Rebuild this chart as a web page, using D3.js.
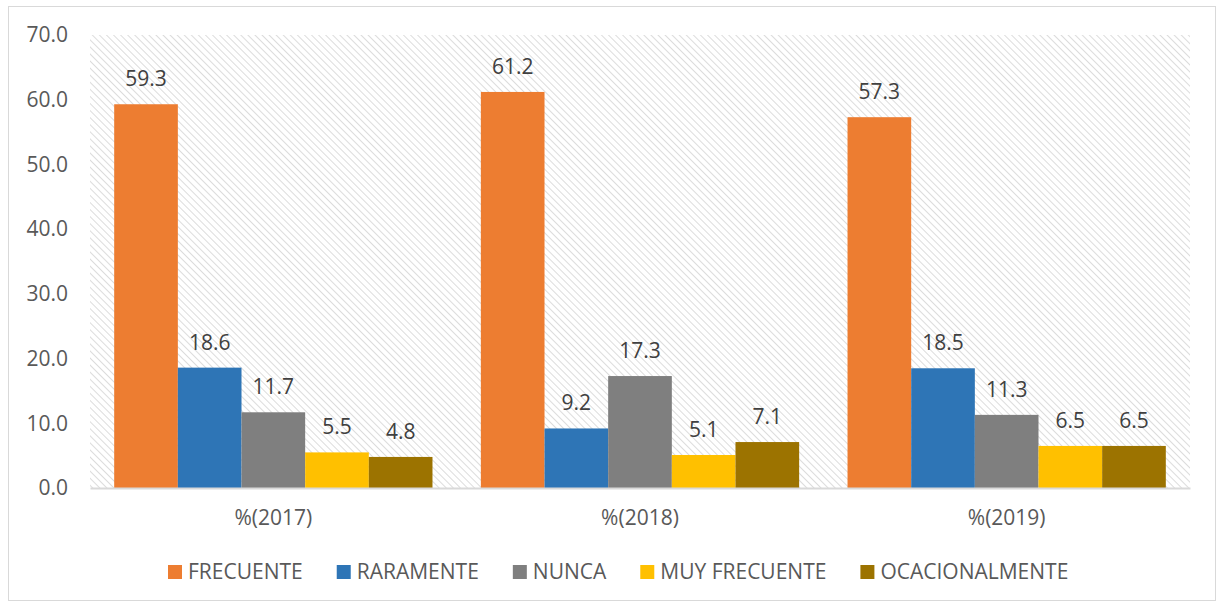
<!DOCTYPE html>
<meta charset="utf-8">
<style>
    body { margin: 0; background: white; }
    text { font-family: "Open Sans", "Noto Sans", sans-serif; fill: #595959; }
</style>
<script src="https://d3js.org/d3.v7.min.js"></script>
<body>
<script>

    var years = ["%(2017)", "%(2018)", "%(2019)"]
    var series = ["FRECUENTE", "RARAMENTE", "NUNCA", "MUY FRECUENTE", "OCACIONALMENTE"]
    var frecuente = [59.3, 61.2, 57.3]
    var raramente = [18.6, 9.2, 18.5]
    var nunca = [11.7, 17.3, 11.3]
    var muyFrecuente = [5.5, 5.1, 6.5]
    var ocasional = [4.8, 7.1, 6.5]
    var yTicks = [0, 10, 20, 30, 40, 50, 60, 70]
    var colors = ["#ed7d31", "#2e75b6", "#7f7f7f", "#ffc000", "#9c7300"]

    var values = [frecuente, raramente, nunca, muyFrecuente, ocasional]

    var width = 1224
    var height = 608
    var margin = { top: 35, right: 34, bottom: 120, left: 90 }
    var fs = "21px"

    var svg = d3.select("body")
        .append("svg")
        .attr("width", width)
        .attr("height", height)

    // chart border
    svg.append("rect")
        .attr("x", 8.5)
        .attr("y", 6.5)
        .attr("width", 1207)
        .attr("height", 594)
        .attr("fill", "white")
        .attr("stroke", "#d9d9d9")

    // hatch pattern
    var pat = svg.append("defs").append("pattern")
        .attr("id", "hatch")
        .attr("patternUnits", "userSpaceOnUse")
        .attr("width", 5)
        .attr("height", 5)
        .attr("patternTransform", "rotate(-45)")
    pat.append("rect").attr("width", 5).attr("height", 5).attr("fill", "white")
    pat.append("line")
        .attr("x1", 0).attr("y1", 0).attr("x2", 0).attr("y2", 5)
        .attr("stroke", "#dcdcdc")
        .attr("stroke-width", 2)

    var x0 = d3.scaleBand()
        .domain(years)
        .range([margin.left, width - margin.right])
        .paddingInner(0)
        .paddingOuter(0)

    var x1 = d3.scaleBand()
        .domain(series)
        .range([0, x0.bandwidth()])
        .paddingOuter(0.38)
        .paddingInner(0)

    var y = d3.scaleLinear()
        .domain([0, 70])
        .range([height - margin.bottom, margin.top])

    svg.append("rect")
        .attr("x", margin.left)
        .attr("y", margin.top)
        .attr("width", width - margin.right - margin.left)
        .attr("height", y(0) - y(70))
        .attr("fill", "url(#hatch)")

    // y axis labels
    var yAxis = d3.axisLeft(y)
        .tickValues(yTicks)
        .tickFormat(d3.format(".1f"))
        .tickSize(0)
        .tickPadding(22)
    var ya = svg.append("g")
        .attr("transform", "translate(" + margin.left + ",0)")
        .call(yAxis)
    ya.select(".domain").remove()
    ya.selectAll("text")
        .attr("font-size", fs)
        .attr("font-family", null)
        .attr("fill", null)

    // bars
    series.forEach(function (s, i) {
        var g = svg.append("g")
        g.selectAll("rect")
            .data(values[i])
            .enter()
            .append("rect")
            .attr("x", function (d, j) { return x0(years[j]) + x1(s) })
            .attr("y", function (d) { return y(d) })
            .attr("width", x1.bandwidth())
            .attr("height", function (d) { return y(0) - y(d) })
            .attr("fill", colors[i])

        g.selectAll("text")
            .data(values[i])
            .enter()
            .append("text")
            .attr("x", function (d, j) { return x0(years[j]) + x1(s) + x1.bandwidth() / 2 })
            .attr("y", function (d) { return y(d) - 18 })
            .attr("text-anchor", "middle")
            .attr("font-size", fs)
            .style("fill", "#404040")
            .text(function (d) { return d3.format(".1f")(d) })
    })

    // x axis
    var xAxis = d3.axisBottom(x0)
        .tickSize(0)
        .tickPadding(22)
    var xa = svg.append("g")
        .attr("transform", "translate(0," + y(0) + ")")
        .call(xAxis)
    xa.select(".domain")
        .attr("stroke", "#d9d9d9")
        .attr("stroke-width", 2)
    xa.selectAll("text")
        .attr("font-size", fs)
        .attr("font-family", null)
        .attr("fill", null)

    // legend
    var legend = svg.append("g")
    var lx = 168
    var ly = 572
    series.forEach(function (s, i) {
        legend.append("rect")
            .attr("x", lx)
            .attr("y", ly - 7)
            .attr("width", 14)
            .attr("height", 14)
            .attr("fill", colors[i])
        var t = legend.append("text")
            .attr("x", lx + 20)
            .attr("y", ly + 7)
            .attr("font-size", fs)
            .text(s)
        lx = lx + 20 + t.node().getComputedTextLength() + 34
    })

</script>
